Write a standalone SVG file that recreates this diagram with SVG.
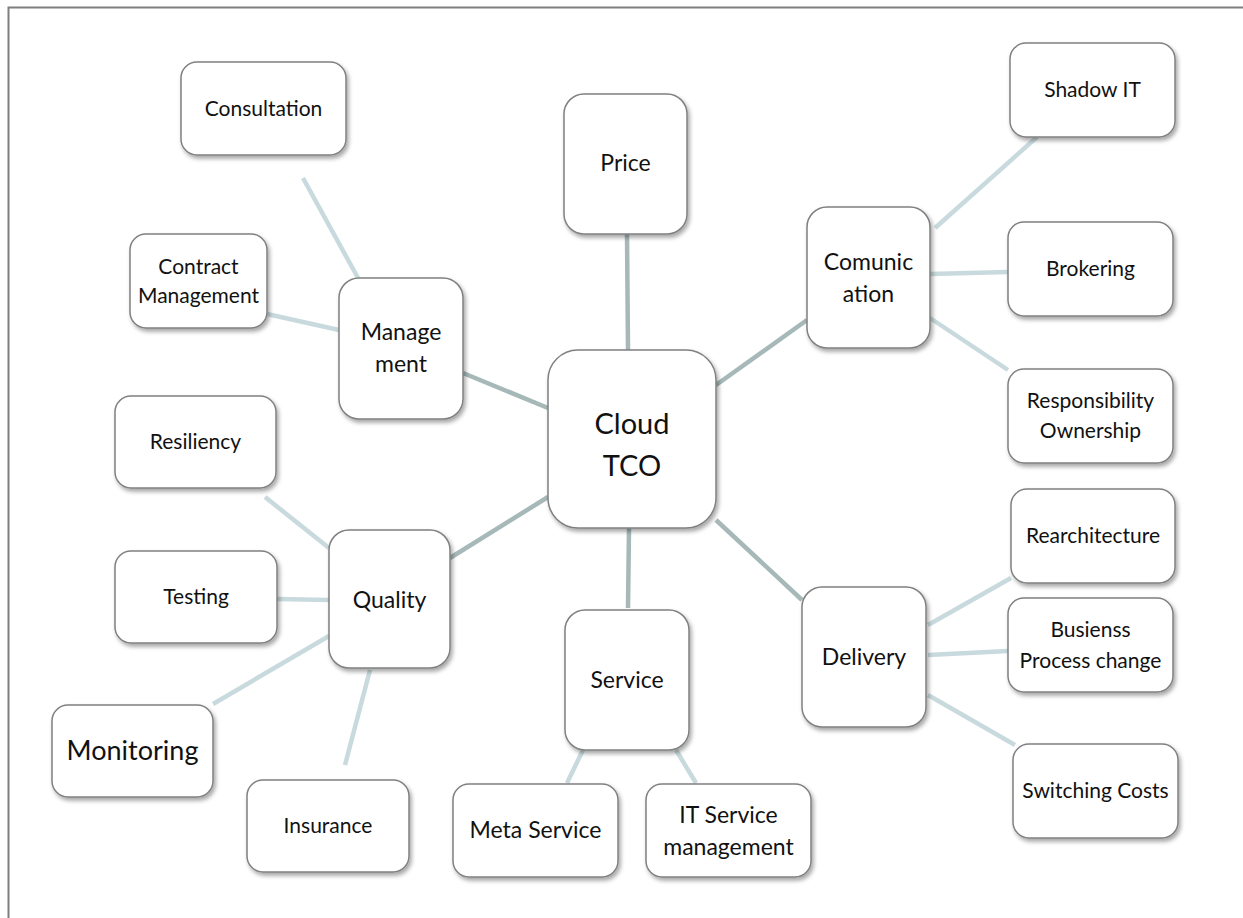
<svg xmlns="http://www.w3.org/2000/svg" width="1243" height="918" viewBox="0 0 1243 918">
<defs>
<filter id="sh" x="-20%" y="-20%" width="140%" height="140%">
<feDropShadow dx="2" dy="3" stdDeviation="2" flood-color="#000" flood-opacity="0.35"/>
</filter>
<style>
.n rect{fill:#fff;stroke:#808080;stroke-width:1.5;filter:url(#sh)}
.n text{font-family:Lato,"Open Sans","Liberation Sans",sans-serif;font-size:21px;fill:#111;text-anchor:middle}
.c1{stroke:#a6b8b8;stroke-width:4.5;fill:none}
.c2{stroke:#c8dadd;stroke-width:4.5;fill:none}
</style>
</defs>
<rect x="0" y="0" width="1243" height="918" fill="#fff"/>
<path d="M8.5 918 V7.5 H1243" fill="none" stroke="#7f7f7f" stroke-width="2"/>
<g id="connectors">
<line class="c1" x1="627" y1="234" x2="628" y2="350"/>
<line class="c1" x1="463" y1="373" x2="548" y2="408"/>
<line class="c1" x1="450" y1="558" x2="548" y2="497"/>
<line class="c1" x1="629" y1="528" x2="628" y2="608"/>
<line class="c1" x1="716" y1="520" x2="802" y2="600"/>
<line class="c1" x1="716" y1="385" x2="807" y2="320"/>
<line class="c2" x1="303" y1="178" x2="358" y2="278"/>
<line class="c2" x1="267" y1="314" x2="339" y2="330"/>
<line class="c2" x1="265" y1="497" x2="329" y2="548"/>
<line class="c2" x1="277" y1="599" x2="329" y2="600"/>
<line class="c2" x1="213" y1="704" x2="329" y2="636"/>
<line class="c2" x1="370" y1="670" x2="345" y2="765"/>
<line class="c2" x1="583" y1="750" x2="567" y2="783"/>
<line class="c2" x1="676" y1="750" x2="696" y2="783"/>
<line class="c2" x1="928" y1="625" x2="1011" y2="578"/>
<line class="c2" x1="928" y1="655" x2="1008" y2="651"/>
<line class="c2" x1="928" y1="695" x2="1015" y2="745"/>
<line class="c2" x1="935" y1="228" x2="1037" y2="137"/>
<line class="c2" x1="930" y1="274" x2="1008" y2="272"/>
<line class="c2" x1="930" y1="318" x2="1008" y2="370"/>
</g>
<g id="cloud-tco" class="n"><rect x="548" y="350" width="168" height="178" rx="30"/><text x="632" y="434" style="font-size:29px">Cloud</text><text x="632" y="476" style="font-size:29px">TCO</text></g>
<g id="price" class="n"><rect x="564" y="94" width="123" height="140" rx="20"/><text x="625.5" y="171" style="font-size:23px">Price</text></g>
<g id="consultation" class="n"><rect x="181" y="62" width="165" height="93" rx="16"/><text x="263.5" y="116">Consultation</text></g>
<g id="contract-management" class="n"><rect x="130" y="234" width="137" height="94" rx="16"/><text x="198.5" y="274">Contract</text><text x="198.5" y="303">Management</text></g>
<g id="management" class="n"><rect x="339" y="278" width="124" height="141" rx="20"/><text x="401" y="340" style="font-size:23px">Manage</text><text x="401" y="372" style="font-size:23px">ment</text></g>
<g id="resiliency" class="n"><rect x="115" y="396" width="161" height="92" rx="16"/><text x="195.5" y="449">Resiliency</text></g>
<g id="quality" class="n"><rect x="329" y="530" width="121" height="138" rx="20"/><text x="389.5" y="608" style="font-size:23px">Quality</text></g>
<g id="testing" class="n"><rect x="115" y="551" width="162" height="92" rx="16"/><text x="196" y="604">Testing</text></g>
<g id="monitoring" class="n"><rect x="52" y="705" width="161" height="92" rx="16"/><text x="132.5" y="760" style="font-size:27px">Monitoring</text></g>
<g id="insurance" class="n"><rect x="247" y="780" width="162" height="92" rx="16"/><text x="328" y="833">Insurance</text></g>
<g id="service" class="n"><rect x="565" y="610" width="124" height="140" rx="20"/><text x="627" y="688" style="font-size:23px">Service</text></g>
<g id="meta-service" class="n"><rect x="453" y="784" width="165" height="93" rx="16"/><text x="535.5" y="838" style="font-size:23px">Meta Service</text></g>
<g id="it-service-management" class="n"><rect x="646" y="784" width="165" height="93" rx="16"/><text x="728.5" y="823" style="font-size:23px">IT Service</text><text x="728.5" y="855" style="font-size:23px">management</text></g>
<g id="delivery" class="n"><rect x="802" y="587" width="124" height="140" rx="20"/><text x="864" y="665" style="font-size:23px">Delivery</text></g>
<g id="rearchitecture" class="n"><rect x="1011" y="489" width="164" height="94" rx="16"/><text x="1093" y="543">Rearchitecture</text></g>
<g id="busienss-process-change" class="n"><rect x="1008" y="598" width="165" height="94" rx="16"/><text x="1090.5" y="637">Busienss</text><text x="1090.5" y="668">Process change</text></g>
<g id="switching-costs" class="n"><rect x="1013" y="744" width="165" height="94" rx="16"/><text x="1095.5" y="798">Switching Costs</text></g>
<g id="comunication" class="n"><rect x="807" y="207" width="123" height="141" rx="20"/><text x="868.5" y="270" style="font-size:23px">Comunic</text><text x="868.5" y="302" style="font-size:23px">ation</text></g>
<g id="shadow-it" class="n"><rect x="1010" y="43" width="165" height="94" rx="16"/><text x="1092.5" y="97">Shadow IT</text></g>
<g id="brokering" class="n"><rect x="1008" y="222" width="165" height="94" rx="16"/><text x="1090.5" y="276">Brokering</text></g>
<g id="responsibility-ownership" class="n"><rect x="1008" y="369" width="165" height="94" rx="16"/><text x="1090.5" y="408">Responsibility</text><text x="1090.5" y="438">Ownership</text></g>
</svg>
